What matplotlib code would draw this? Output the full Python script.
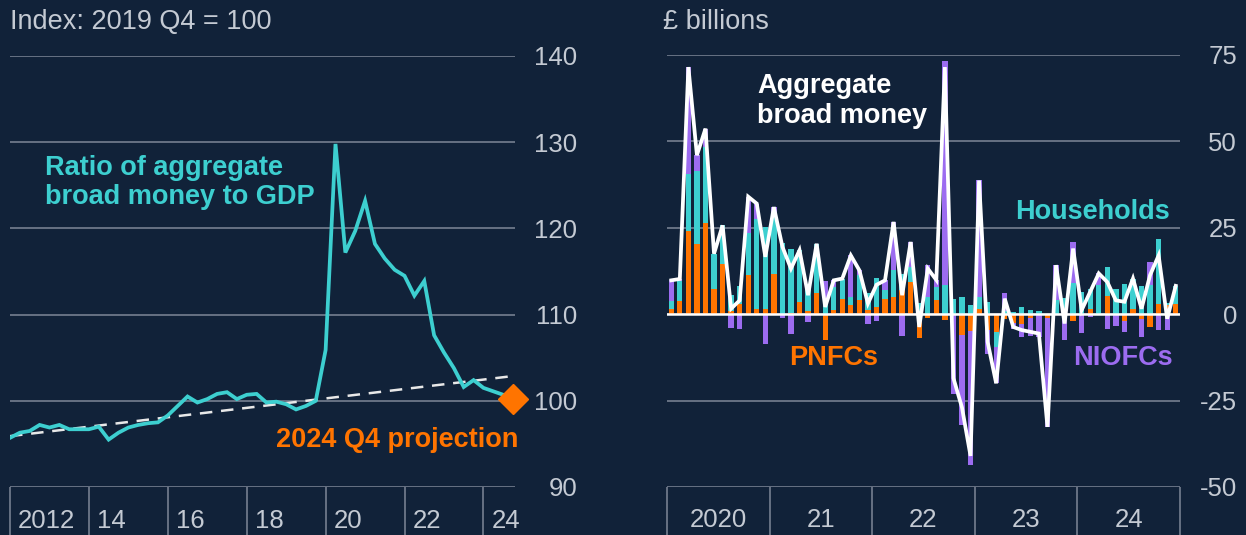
import numpy as np
import matplotlib
matplotlib.use('Agg')
import matplotlib.pyplot as plt
import matplotlib.transforms as mtransforms

plt.rcParams['font.family'] = ['Liberation Sans', 'DejaVu Sans']
plt.rcParams['axes.unicode_minus'] = False

# 左图：广义货币/GDP 比率（季度，2012Q1 - 2024Q3）
ratio_quarters = np.arange(2012, 2024.75, 0.25)
ratio_values = [95.7, 96.3, 96.5, 97.2,
                96.9, 97.2, 96.7, 96.7,
                96.7, 97.0, 95.5, 96.3,
                96.9, 97.2, 97.4, 97.5,
                98.3, 99.4, 100.5, 99.8,
                100.2, 100.8, 101.0, 100.2,
                100.7, 100.8, 99.8, 99.9,
                99.6, 99.0, 99.4, 100.0,
                105.9, 129.8, 117.2, 119.7,
                123.2, 118.2, 116.5, 115.2,
                114.5, 112.2, 113.9, 107.6,
                105.6, 103.8, 101.6, 102.4,
                101.5, 101.1, 100.7]
trend_x = [2012.0, 2024.8]
trend_y = [95.9, 102.9]
projection_x = [2024.75]
projection_y = [100.2]
left_ticks = [90, 100, 110, 120, 130, 140]
left_years = [2012, 2014, 2016, 2018, 2020, 2022, 2024]
left_year_labels = ['2012', '14', '16', '18', '20', '22', '24']

# 右图：各部门广义货币月度流量（2020年1月 - 2024年12月）
pnfcs = [1.4, 3.9, 24.0, 20.2, 26.4, 7.2, 14.5, 1.0, 3.0, 11.3, 1.5, 1.6,
         11.6, 0.0, 0.3, 3.6, 1.0, 6.0, -7.5, 1.2, 4.5, 2.6, 4.0, 1.2,
         2.0, 4.5, 5.0, 6.9, 9.3, -7.0, -1.0, 4.0, -1.7, 0.0, -6.1, -5.0,
         1.5, -4.5, -5.1, -1.5, -2.5, -2.7, -1.2, 0.0, -1.0, 0.0, 0.8, -2.0,
         0.0, 1.4, 0.0, 5.3, 0.0, -1.9, 1.6, -1.4, -3.8, 2.9, 2.6, 2.9]
households = [2.4, 5.8, 16.5, 21.2, 22.0, 10.3, 11.2, 4.5, 5.3, 12.2, 26.0, 23.5,
              17.0, 20.5, 18.5, 14.9, 6.8, 14.4, 3.0, 6.7, 5.8, 2.4, 7.2, 4.8,
              8.5, 2.4, 7.7, 4.8, 4.3, 3.3, 5.0, 3.9, 8.4, 4.5, 5.0, 2.6,
              3.5, 3.5, -4.3, 1.0, 0.5, 2.1, 1.2, 0.9, 0.0, 4.0, 4.0, 9.0,
              6.5, 5.8, 8.5, 8.3, 7.4, 8.7, 8.7, 8.3, 8.5, 18.8, 0.7, 5.3]
niofcs = [6.0, 0.5, 31.0, 4.6, 5.3, 0.0, 0.0, -3.9, -4.3, 10.5, 4.5, -8.5,
          2.4, -1.0, -5.6, 0.0, -2.3, 0.0, 6.6, 1.9, 0.0, 12.0, 1.5, -2.9,
          -2.0, 2.9, 14.0, -6.2, 7.3, 0.0, 9.2, 2.0, 64.8, -23.0, -25.9, -38.6,
          33.7, -7.0, -10.6, 5.0, -1.7, -4.0, -5.1, -6.5, -31.6, 10.2, -7.5, 12.0,
          -5.3, -0.7, 3.3, -4.3, -3.4, -3.2, 0.0, -5.3, 6.6, -4.7, -4.6, 0.0]
right_ticks = [-50, -25, 0, 25, 50, 75]
right_year_labels = ['2020', '21', '22', '23', '24']

bg = '#112239'
grid_c = '#6d7889'
text_c = '#c4cad3'
cyan = '#3dcfd0'
orange = '#ff7400'
purple = '#9c6cf0'

W, H = 1246, 535
fig = plt.figure(figsize=(W / 100, H / 100), dpi=100, facecolor=bg)


def px_box(x0, x1, y_top, y_bot):
    return [x0 / W, 1 - y_bot / H, (x1 - x0) / W, (y_bot - y_top) / H]


def style_axes(ax, ticks, pad):
    ax.set_facecolor(bg)
    for s in ax.spines.values():
        s.set_visible(False)
    ax.set_yticks(ticks)
    ax.yaxis.tick_right()
    ax.tick_params(axis='y', length=0, pad=pad, labelsize=18.5, labelcolor=text_c)
    for lab in ax.get_yticklabels():
        lab.set_ha('right')
    for t in ticks:
        ax.axhline(t, color=grid_c, lw=1.3, zorder=0)
    ax.set_xticks([])


# ---------- 左图 ----------
ax1 = fig.add_axes(px_box(10, 515, 56, 487))
ax1.set_xlim(2012, 2024.8)
ax1.set_ylim(90, 140)
style_axes(ax1, left_ticks, 45)

ax1.plot(trend_x, trend_y, color='#e8e8e8', lw=1.8, dashes=(5, 3.5), zorder=2)
ax1.plot(ratio_quarters, ratio_values, color=cyan, lw=2.7, zorder=3,
         solid_joinstyle='miter')
ax1.plot(projection_x, projection_y, marker='D', color=orange, ms=15,
         ls='none', zorder=4, clip_on=False)

trans1 = mtransforms.blended_transform_factory(ax1.transData, ax1.transAxes)
ax1.vlines(left_years, -0.115, 0, transform=trans1, color=grid_c, lw=1.3,
           clip_on=False)
for yr, lab in zip(left_years, left_year_labels):
    ax1.text(yr + 0.2, -0.078, lab, transform=trans1, ha='left', va='center',
             fontsize=18.5, color=text_c)

# ---------- 右图 ----------
ax2 = fig.add_axes(px_box(667, 1180, 55, 487))
months = np.arange(len(pnfcs))
ax2.set_xlim(-0.5, len(pnfcs) - 0.5)
ax2.set_ylim(-50, 75)
style_axes(ax2, right_ticks, 41)

pos_base = np.zeros(len(months))
neg_base = np.zeros(len(months))
for series, col in [(pnfcs, orange), (households, cyan), (niofcs, purple)]:
    v = np.array(series)
    base = np.where(v >= 0, pos_base, neg_base)
    ax2.bar(months, v, bottom=base, width=0.62, color=col, lw=0, zorder=2)
    pos_base = pos_base + np.clip(v, 0, None)
    neg_base = neg_base + np.clip(v, None, 0)

aggregate = np.array(pnfcs) + np.array(households) + np.array(niofcs)
ax2.axhline(0, color='white', lw=1.8, zorder=3)
ax2.plot(months, aggregate, color='white', lw=2.7, zorder=4,
         solid_joinstyle='miter')

trans2 = mtransforms.blended_transform_factory(ax2.transData, ax2.transAxes)
edges = np.arange(-0.5, len(months), 12)
ax2.vlines(edges, -0.11, 0, transform=trans2, color=grid_c, lw=1.3,
           clip_on=False)
for k, lab in enumerate(right_year_labels):
    ax2.text(k * 12 + 5.5, -0.076, lab, transform=trans2, ha='center',
             va='center', fontsize=18.5, color=text_c)

# ---------- 标题与注释 ----------
def ftext(x, y, s, **kw):
    fig.text(x / W, 1 - y / H, s, **kw)


ftext(10, 22, 'Index: 2019 Q4 = 100', fontsize=19.5, color=text_c, va='center')
ftext(663, 22, '£ billions', fontsize=19.5, color=text_c, va='center')
ftext(45, 155, 'Ratio of aggregate\nbroad money to GDP', fontsize=19.5,
      fontweight='bold', color=cyan, va='top', linespacing=1.15)
ftext(518, 440, '2024 Q4 projection', fontsize=19.5, fontweight='bold',
      color=orange, ha='right', va='center')
ftext(757, 73, 'Aggregate\nbroad money', fontsize=19.5, fontweight='bold',
      color='white', va='top', linespacing=1.2)
ftext(1170, 212, 'Households', fontsize=19.5, fontweight='bold', color=cyan,
      ha='right', va='center')
ftext(789, 358, 'PNFCs', fontsize=19.5, fontweight='bold', color=orange,
      va='center')
ftext(1073, 358, 'NIOFCs', fontsize=19.5, fontweight='bold', color=purple,
      va='center')

fig.savefig('out.png', dpi=100, facecolor=bg)
